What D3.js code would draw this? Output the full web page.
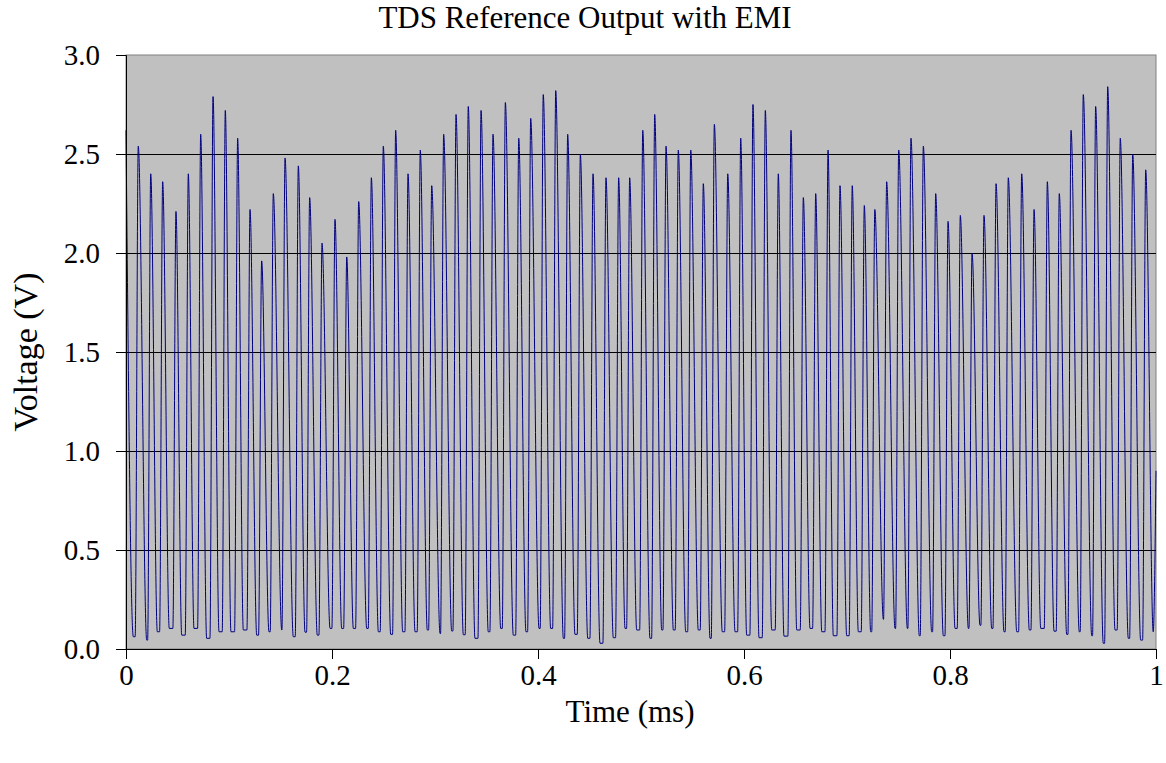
<!DOCTYPE html>
<html>
<head>
<meta charset="utf-8">
<script src="https://cdn.jsdelivr.net/npm/d3@7"></script>
<style>
  body { margin: 0; background: #fff; }
  text { font-family: "Liberation Serif", "Times New Roman", serif; fill: #000; }
</style>
</head>
<body>
<div id="chart"></div>
<script>
// peaks (time in ms, voltage in V)
var peakTime = [0.0000, 0.0119, 0.0240, 0.0356, 0.0485, 0.0605, 0.0725, 0.0845, 0.0964, 0.1084,
  0.1204, 0.1317, 0.1430, 0.1544, 0.1673, 0.1783, 0.1903, 0.2029, 0.2143, 0.2259,
  0.2382, 0.2498, 0.2618, 0.2738, 0.2857, 0.2968, 0.3084, 0.3204, 0.3323, 0.3447,
  0.3563, 0.3683, 0.3813, 0.3929, 0.4051, 0.4172, 0.4288, 0.4411, 0.4534, 0.4660,
  0.4783, 0.4890, 0.5017, 0.5133, 0.5243, 0.5362, 0.5483, 0.5605, 0.5712, 0.5842,
  0.5968, 0.6087, 0.6207, 0.6333, 0.6456, 0.6576, 0.6696, 0.6816, 0.6932, 0.7051,
  0.7168, 0.7270, 0.7385, 0.7502, 0.7621, 0.7741, 0.7861, 0.7981, 0.8100, 0.8214,
  0.8330, 0.8447, 0.8566, 0.8696, 0.8816, 0.8945, 0.9061, 0.9175, 0.9294, 0.9414,
  0.9531, 0.9653, 0.9774, 0.9900];
var peakVolt = [2.62, 2.54, 2.40, 2.36, 2.21, 2.40, 2.60, 2.79, 2.72, 2.58,
  2.22, 1.96, 2.30, 2.48, 2.44, 2.28, 2.05, 2.17, 1.98, 2.26,
  2.38, 2.54, 2.62, 2.40, 2.52, 2.34, 2.60, 2.70, 2.74, 2.72,
  2.60, 2.76, 2.58, 2.68, 2.80, 2.82, 2.60, 2.50, 2.40, 2.38,
  2.38, 2.38, 2.62, 2.70, 2.54, 2.52, 2.52, 2.35, 2.65, 2.40,
  2.58, 2.75, 2.72, 2.40, 2.62, 2.28, 2.30, 2.52, 2.34, 2.34,
  2.24, 2.22, 2.36, 2.52, 2.58, 2.54, 2.30, 2.16, 2.19, 2.00,
  2.19, 2.35, 2.38, 2.40, 2.22, 2.36, 2.30, 2.62, 2.80, 2.74,
  2.84, 2.58, 2.50, 2.42];

// minimum after each peak
var troughTime = [0.0071, 0.0201, 0.0304, 0.0420, 0.0541, 0.0660, 0.0783, 0.0903, 0.1019, 0.1139,
  0.1269, 0.1388, 0.1512, 0.1624, 0.1738, 0.1857, 0.1981, 0.2094, 0.2207, 0.2337,
  0.2450, 0.2570, 0.2686, 0.2806, 0.2925, 0.3049, 0.3162, 0.3275, 0.3388, 0.3517,
  0.3638, 0.3760, 0.3883, 0.4010, 0.4123, 0.4246, 0.4359, 0.4483, 0.4602, 0.4731,
  0.4845, 0.4958, 0.5087, 0.5201, 0.5314, 0.5434, 0.5556, 0.5670, 0.5789, 0.5913,
  0.6026, 0.6146, 0.6269, 0.6388, 0.6512, 0.6641, 0.6755, 0.6867, 0.6997, 0.7110,
  0.7230, 0.7353, 0.7466, 0.7586, 0.7702, 0.7822, 0.7935, 0.8049, 0.8178, 0.8291,
  0.8405, 0.8524, 0.8648, 0.8770, 0.8881, 0.9010, 0.9133, 0.9255, 0.9376, 0.9488,
  0.9602, 0.9731, 0.9851, 0.9973];
var troughVolt = [0.062, 0.045, 0.087, 0.104, 0.070, 0.104, 0.054, 0.087, 0.087, 0.096,
  0.070, 0.087, 0.096, 0.062, 0.085, 0.070, 0.104, 0.104, 0.104, 0.104,
  0.087, 0.074, 0.087, 0.087, 0.096, 0.078, 0.091, 0.072, 0.054, 0.087,
  0.104, 0.070, 0.087, 0.104, 0.104, 0.054, 0.074, 0.054, 0.029, 0.057,
  0.104, 0.096, 0.054, 0.096, 0.096, 0.087, 0.096, 0.054, 0.087, 0.087,
  0.070, 0.057, 0.096, 0.065, 0.096, 0.104, 0.087, 0.067, 0.067, 0.087,
  0.087, 0.150, 0.104, 0.104, 0.067, 0.087, 0.067, 0.104, 0.104, 0.120,
  0.104, 0.087, 0.087, 0.096, 0.104, 0.090, 0.074, 0.087, 0.067, 0.029,
  0.096, 0.054, 0.045, 0.087];
var endPoint = { t: 1.0, v: 0.90 };

var yTicks = [0, 0.5, 1.0, 1.5, 2.0, 2.5, 3.0];
var xTicks = [0, 0.2, 0.4, 0.6, 0.8, 1];

var width = 1166, height = 763;
var margin = { top: 55, right: 10, bottom: 114, left: 126 };
var riseMs = 0.003; // how long the edge takes to climb to each peak

var svg = d3.select("#chart").append("svg")
    .attr("width", width)
    .attr("height", height);

var x = d3.scaleLinear().domain([0, 1]).range([margin.left, width - margin.right]);
var y = d3.scaleLinear().domain([0, 3]).range([height - margin.bottom, margin.top]);

// plot area
svg.append("rect")
    .attr("x", x(0)).attr("y", y(3))
    .attr("width", x(1) - x(0)).attr("height", y(0) - y(3))
    .attr("fill", "#c0c0c0")
    .attr("stroke", "#808080");

svg.append("g").attr("class", "grid")
    .selectAll("line")
    .data(yTicks.filter(function(d) { return d > 0 && d < 3; }))
    .enter().append("line")
    .attr("x1", x(0)).attr("x2", x(1))
    .attr("y1", function(d) { return Math.round(y(d)) + 0.5; })
    .attr("y2", function(d) { return Math.round(y(d)) + 0.5; })
    .attr("stroke", "#000")
    .attr("stroke-width", 1);

// build the trace from peaks and troughs
var pts = [];
peakTime.forEach(function(t, i) {
    if (i > 0) pts.push({ t: t - riseMs, v: troughVolt[i - 1] });
    pts.push({ t: t, v: peakVolt[i] });
    pts.push({ t: troughTime[i], v: troughVolt[i] });
});
pts.push(endPoint);

var line = d3.line()
    .x(function(d) { return x(d.t); })
    .y(function(d) { return y(d.v); })
    .curve(d3.curveMonotoneX);

svg.append("path")
    .datum(pts)
    .attr("fill", "none")
    .attr("stroke", "#000080")
    .attr("stroke-width", 1)
    .attr("d", line);

// axes
var yAxis = svg.append("g")
    .attr("transform", "translate(" + x(0) + ",0)")
    .call(d3.axisLeft(y).tickValues(yTicks).tickFormat(d3.format(".1f")).tickSize(10).tickPadding(16));

var xAxis = svg.append("g")
    .attr("transform", "translate(0," + y(0) + ")")
    .call(d3.axisBottom(x).tickValues(xTicks)
        .tickFormat(function(d) { return String(+d.toFixed(1)); })
        .tickSize(10).tickPadding(5));

[yAxis, xAxis].forEach(function(g) {
    g.selectAll("path.domain").attr("stroke", "#000");
    g.selectAll(".tick line").attr("stroke", "#000");
    g.selectAll("text")
        .attr("font-family", "'Liberation Serif', 'Times New Roman', serif")
        .attr("font-size", 29)
        .attr("fill", "#000");
});

svg.append("text")
    .attr("x", 585)
    .attr("y", 28)
    .attr("text-anchor", "middle")
    .attr("font-size", 31)
    .text("TDS Reference Output with EMI");

svg.append("text")
    .attr("x", 630)
    .attr("y", 722)
    .attr("text-anchor", "middle")
    .attr("font-size", 31)
    .text("Time (ms)");

svg.append("text")
    .attr("transform", "translate(37," + ((y(0) + y(3)) / 2) + ") rotate(-90)")
    .attr("text-anchor", "middle")
    .attr("font-size", 34)
    .text("Voltage (V)");
</script>
</body>
</html>
